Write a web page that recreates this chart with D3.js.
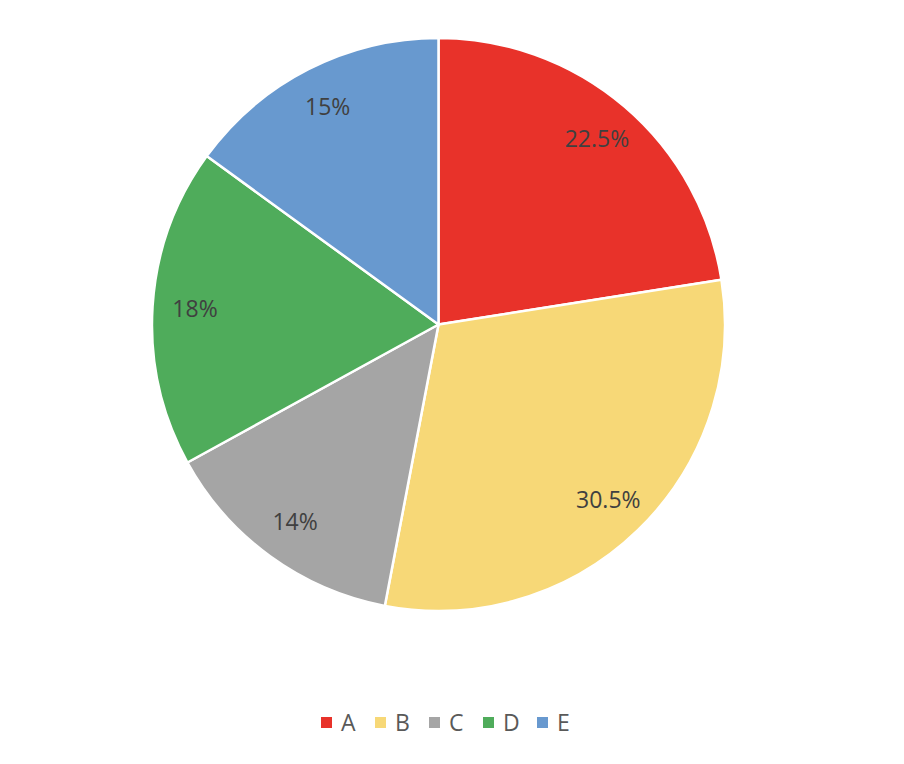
<!DOCTYPE html>
<html><head><meta charset="utf-8">
<script src="https://cdn.jsdelivr.net/npm/d3@7"></script>
<style>body{margin:0;background:#fff;} svg{display:block;}</style>
</head><body>
<svg id="chart" width="904" height="764"></svg>
<script>
const categories = ["A", "B", "C", "D", "E"];
const values = [22.5, 30.5, 14, 18, 15];
const labels = ["22.5%", "30.5%", "14%", "18%", "15%"];
const colors = ["#E8322A", "#F7D877", "#A5A5A5", "#4FAC5B", "#6899CF"];

const svg = d3.select("#chart");
const cx = 438.5, cy = 324.5, R = 286.5;
const data = categories.map((c, i) => ({cat: c, value: values[i], label: labels[i], color: colors[i]}));
const pie = d3.pie().value(d => d.value).sort(null);
const arcs = pie(data);
const arc = d3.arc().innerRadius(0).outerRadius(R);
const labelArc = d3.arc().innerRadius(244).outerRadius(244);
const g = svg.append("g").attr("transform", `translate(${cx},${cy})`);
g.selectAll("path").data(arcs).join("path")
  .attr("d", arc).attr("fill", d => d.data.color)
  .attr("stroke", "#fff").attr("stroke-width", 2.5).attr("stroke-linejoin", "round");
g.selectAll("text").data(arcs).join("text")
  .attr("transform", d => `translate(${labelArc.centroid(d)})`)
  .attr("text-anchor", "middle").attr("dy", "0.36em")
  .attr("font-family", "'Open Sans', 'Liberation Sans', sans-serif")
  .attr("font-size", 23).attr("fill", "#404040")
  .text(d => d.data.label);

// legend
const legendX = d3.scalePoint().domain(categories).range([321, 537]);
const lg = svg.append("g");
const items = lg.selectAll("g").data(data).join("g")
  .attr("transform", d => `translate(${legendX(d.cat)},722.5)`);
items.append("rect").attr("x", 0).attr("y", -5.5).attr("width", 11).attr("height", 11).attr("fill", d => d.color);
items.append("text").attr("x", 20).attr("dy", "0.36em")
  .attr("font-family", "'Open Sans', 'Liberation Sans', sans-serif")
  .attr("font-size", 23).attr("fill", "#595959").text(d => d.cat);
</script>
</body></html>
